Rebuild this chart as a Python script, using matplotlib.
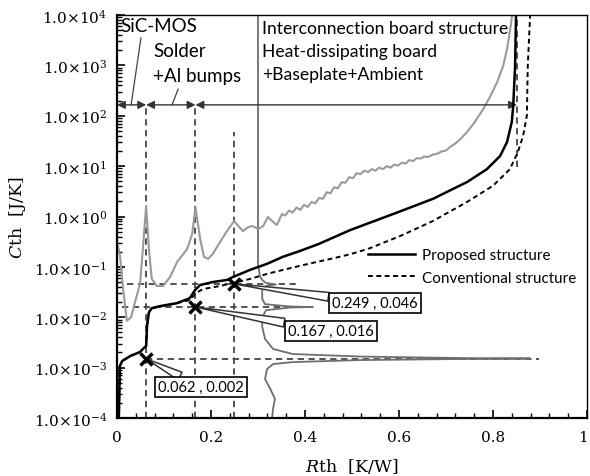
import numpy as np
import matplotlib
matplotlib.use('Agg')
import matplotlib.pyplot as plt
import matplotlib.transforms as mtransforms
from matplotlib.ticker import FixedLocator, FixedFormatter, LogLocator, MultipleLocator, NullFormatter

plt.rcParams['mathtext.fontset'] = 'dejavuserif'
plt.rcParams['font.family'] = 'DejaVu Serif'

# ---- data (Rth in K/W, Cth as log10 of J/K) ----
rth_prop = [0.004, 0.006, 0.011, 0.028, 0.049, 0.055, 0.062, 0.064, 0.068, 0.074,
            0.091, 0.128, 0.155, 0.166, 0.177, 0.204, 0.234, 0.247, 0.283, 0.319,
            0.353, 0.389, 0.428, 0.496, 0.602, 0.672, 0.745, 0.787, 0.815, 0.830,
            0.840, 0.843, 0.847, 0.849]
cth_prop_log = [-4.0, -2.97, -2.87, -2.77, -2.69, -2.63, -2.57, -2.17, -1.90, -1.82,
                -1.78, -1.72, -1.62, -1.46, -1.36, -1.30, -1.26, -1.20, -1.06, -0.94,
                -0.80, -0.685, -0.55, -0.27, 0.10, 0.35, 0.685, 0.94, 1.20, 1.48,
                1.88, 2.19, 2.99, 4.0]

rth_conv = [0.004, 0.006, 0.011, 0.028, 0.049, 0.055, 0.062, 0.064, 0.068, 0.074,
            0.091, 0.155, 0.168, 0.183, 0.219, 0.247, 0.283, 0.319, 0.353, 0.389,
            0.426, 0.460, 0.496, 0.538, 0.602, 0.672, 0.745, 0.800, 0.836, 0.853,
            0.864, 0.872, 0.874, 0.879]
cth_conv_log = [-4.0, -2.97, -2.87, -2.77, -2.69, -2.63, -2.57, -2.17, -1.90, -1.82,
                -1.79, -1.66, -1.52, -1.44, -1.38, -1.32, -1.24, -1.14, -1.06, -0.98,
                -0.90, -0.83, -0.75, -0.63, -0.39, -0.09, 0.29, 0.61, 0.94, 1.28,
                1.60, 2.0, 2.99, 4.0]

# differential structure function (light gray)
rth_k = [0.002, 0.006, 0.013, 0.021, 0.030, 0.040, 0.049, 0.055, 0.062, 0.068,
         0.074, 0.085, 0.098, 0.113, 0.128, 0.149, 0.160, 0.167, 0.177, 0.185,
         0.194, 0.204, 0.219, 0.234, 0.249, 0.260, 0.268, 0.279, 0.289, 0.300,
         0.311, 0.321, 0.330, 0.340, 0.351, 0.358, 0.366, 0.374, 0.382, 0.390,
         0.398, 0.406, 0.414, 0.422, 0.430, 0.438, 0.446, 0.454, 0.462, 0.470,
         0.478, 0.486, 0.494, 0.502, 0.510, 0.518, 0.526, 0.534, 0.542, 0.550,
         0.558, 0.566, 0.574, 0.582, 0.590, 0.598, 0.606, 0.614, 0.622, 0.630,
         0.638, 0.646, 0.654, 0.662, 0.672, 0.680, 0.690, 0.700, 0.710, 0.720,
         0.730, 0.745, 0.760, 0.779, 0.795, 0.809, 0.822, 0.830, 0.838, 0.842]
k_log = [-0.59, -0.74, -1.44, -2.07, -2.00, -1.64, -1.34, -0.65, 0.21, -0.65,
         -1.24, -1.38, -1.38, -1.20, -0.90, -0.65, -0.35, 0.19, -0.45, -0.80,
         -0.84, -0.74, -0.51, -0.29, -0.09, -0.21, -0.29, -0.21, -0.19, -0.25,
         -0.19, -0.01, -0.09, -0.17, 0.05, 0.02, 0.12, 0.08, 0.18, 0.13,
         0.23, 0.19, 0.29, 0.26, 0.37, 0.35, 0.48, 0.46, 0.58, 0.56,
         0.68, 0.67, 0.78, 0.76, 0.86, 0.84, 0.91, 0.88, 0.94, 0.91,
         0.97, 0.94, 1.00, 0.97, 1.03, 1.01, 1.07, 1.05, 1.12, 1.10,
         1.16, 1.15, 1.19, 1.18, 1.23, 1.24, 1.29, 1.31, 1.39, 1.45,
         1.53, 1.68, 1.86, 2.13, 2.40, 2.67, 3.00, 3.33, 3.80, 4.10]

# time-constant spectrum drawn sideways (dark gray)
spec_log = [4.0, -0.94, -1.18, -1.26, -1.32, -1.35, -1.38, -1.44, -1.64, -1.74,
            -1.787, -1.797, -1.807, -1.86, -2.0, -2.19, -2.43, -2.63, -2.73, -2.78,
            -2.81, -2.819, -2.829, -2.85, -2.89, -2.93, -3.03, -3.23, -3.42, -3.62,
            -3.82, -4.0]
spec_rth = [0.300, 0.300, 0.304, 0.309, 0.317, 0.338, 0.317, 0.309, 0.309, 0.315,
            0.368, 0.417, 0.368, 0.317, 0.309, 0.309, 0.315, 0.332, 0.374, 0.517,
            0.730, 0.879, 0.730, 0.517, 0.374, 0.332, 0.319, 0.315, 0.326, 0.336,
            0.332, 0.330]

# marked points and their labels
mark_rth = [0.062, 0.167, 0.249]
mark_cth = [0.0015, 0.016, 0.046]
mark_labels = ['0.062 , 0.002', '0.167 , 0.016', '0.249 , 0.046']

# region boundaries for the arrows at the top
bounds = [0, 0.062, 0.167, 0.851]

y_ticks = [1e-4, 1e-3, 1e-2, 1e-1, 1e0, 1e1, 1e2, 1e3, 1e4]
y_tick_labels = [r'$1.0{\times}10^{{-}%d}$' % -e if e < 0 else r'$1.0{\times}10^{%d}$' % e
                 for e in range(-4, 5)]
x_ticks = [0, 0.2, 0.4, 0.6, 0.8, 1.0]
x_tick_labels = ['0', '0.2', '0.4', '0.6', '0.8', '1']

# ---- plot ----
fig = plt.figure(figsize=(5.9, 4.77), dpi=100)
ax = fig.add_axes([117/590, 1 - 419/477, 470/590, 403/477])

ax.plot(spec_rth, 10 ** np.array(spec_log), color='#6e6e6e', lw=1.3, zorder=2)
ax.plot(rth_k, 10 ** np.array(k_log), color='#9a9a9a', lw=1.5, zorder=2)

# guide lines
dash = (0, (3.5, 2.5))
ax.axvline(0.062, 0, 0.777, color='#444444', lw=1.3, ls=dash, zorder=1)
ax.axvline(0.167, 0, 0.777, color='#444444', lw=1.3, ls=dash, zorder=1)
ax.axvline(0.249, 0, 0.71, color='#444444', lw=1.3, ls=dash, zorder=1)
ax.axvline(0.851, 0.623, 1, color='#444444', lw=1.3, ls=dash, zorder=1)
ax.hlines(0.0015, 0.062, 0.898, color='#444444', lw=1.3, ls=dash, zorder=1)
ax.hlines(0.016, 0.011, 0.39, color='#444444', lw=1.3, ls=dash, zorder=1)
ax.hlines(0.046, 0.021, 0.39, color='#444444', lw=1.3, ls=dash, zorder=1)

l1, = ax.plot(rth_prop, 10 ** np.array(cth_prop_log), color='black', lw=1.8, zorder=4)
l2, = ax.plot(rth_conv, 10 ** np.array(cth_conv_log), color='black', lw=1.4,
              ls=(0, (2.5, 1.8)), zorder=4)

# callouts
box_pos = [(0.179, 0.077), (0.455, 0.216), (0.549, 0.285)]
for x, y, lab, pos in zip(mark_rth, mark_cth, mark_labels, box_pos):
    ax.annotate(lab, xy=(x, y), xytext=pos, textcoords='axes fraction',
                ha='center', va='center', family='Lato', fontsize=10.5,
                bbox=dict(boxstyle='square,pad=0.22', fc='white', ec='black', lw=1.2),
                arrowprops=dict(arrowstyle='wedge,tail_width=0.6', fc='white',
                                ec='#333333', lw=1.1, shrinkA=0, shrinkB=0),
                zorder=5)
ax.plot(mark_rth, mark_cth, ls='none', marker='x', ms=9, mew=2.5, color='black', zorder=6)

# region arrows
for a, b in zip(bounds[:-1], bounds[1:]):
    ax.annotate('', xy=(b, 0.777), xytext=(a, 0.777), xycoords=('data', 'axes fraction'),
                arrowprops=dict(arrowstyle='<|-|>', color='#333333', lw=1.0,
                                mutation_scale=12, shrinkA=0, shrinkB=0))

ax.text(0.0064, 0.975, 'SiC-MOS', transform=ax.transAxes, family='Lato', fontsize=13.5, va='center')
ax.text(0.077, 0.911, 'Solder', transform=ax.transAxes, family='Lato', fontsize=13.5, va='center')
ax.text(0.077, 0.849, '+Al bumps', transform=ax.transAxes, family='Lato', fontsize=13.5, va='center')
ax.plot([0.051, 0.030], [0.943, 0.777], transform=ax.transAxes, color='#444444', lw=0.9)
ax.plot([0.130, 0.117], [0.816, 0.777], transform=ax.transAxes, color='#444444', lw=0.9)
for yy, s in zip([0.968, 0.911, 0.854], ['Interconnection board structure',
                                         'Heat-dissipating board', '+Baseplate+Ambient']):
    ax.text(0.309, yy, s, transform=ax.transAxes, family='Lato', fontsize=12.6, va='center')

ax.legend(handles=[l1, l2], labels=['Proposed structure', 'Conventional structure'],
          loc='center left', bbox_to_anchor=(0.534, 0.376), frameon=False,
          prop={'family': 'Lato', 'size': 11}, handlelength=3.1, handletextpad=0.45,
          labelspacing=0.55, borderpad=0, borderaxespad=0)

# axes
ax.set_yscale('log')
ax.set_xlim(0, 1)
ax.set_ylim(1e-4, 1e4)
ax.yaxis.set_major_locator(FixedLocator(y_ticks))
ax.yaxis.set_major_formatter(FixedFormatter(y_tick_labels))
ax.yaxis.set_minor_locator(LogLocator(base=10, subs=np.arange(2, 10), numticks=20))
ax.yaxis.set_minor_formatter(NullFormatter())
ax.xaxis.set_major_locator(FixedLocator(x_ticks))
ax.xaxis.set_major_formatter(FixedFormatter(x_tick_labels))
ax.xaxis.set_minor_locator(MultipleLocator(0.04))
ax.tick_params(which='both', direction='in', top=False, right=False, labelsize=11)
ax.tick_params(axis='x', pad=9)
ax.tick_params(axis='y', pad=7)
ax.tick_params(which='major', length=6, width=1.2)
ax.tick_params(which='minor', length=3.5, width=1.0)
ax.spines['left'].set_linewidth(1.6)
ax.spines['bottom'].set_linewidth(1.6)
ax.spines['top'].set_linewidth(1.0)
ax.spines['right'].set_linewidth(1.0)

# keep the "1" at the right end inside the figure
last = ax.get_xticklabels()[-1]
last.set_transform(last.get_transform() + mtransforms.ScaledTranslation(-3/72, 0, fig.dpi_scale_trans))

ax.set_xlabel(r'$R$th  [K/W]', fontsize=12.5, labelpad=8)
ax.set_ylabel(r'$C$th  [J/K]', fontsize=12.5, labelpad=4)

fig.savefig('out.png', dpi=100)
